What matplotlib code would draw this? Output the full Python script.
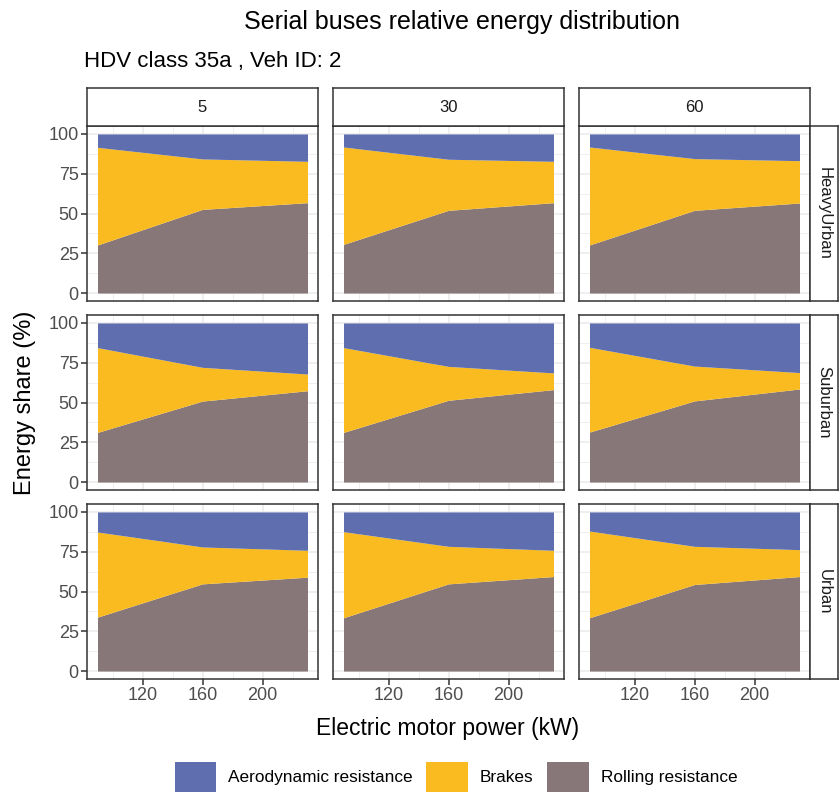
import matplotlib
matplotlib.use("Agg")
import matplotlib.pyplot as plt
from matplotlib.patches import Patch
import numpy as np

plt.rcParams['font.family'] = ['Liberation Sans', 'DejaVu Sans']

# ---------------- data ----------------
power_kw = [90, 160, 230]
columns = ["5", "30", "60"]
cycles = ["HeavyUrban", "Suburban", "Urban"]
series = ["Aerodynamic resistance", "Brakes", "Rolling resistance"]

rolling = {
    ("HeavyUrban", "5"):  [30.2, 52.6, 56.8],
    ("HeavyUrban", "30"): [30.6, 52.0, 56.8],
    ("HeavyUrban", "60"): [30.2, 52.0, 56.6],
    ("Suburban", "5"):    [31.2, 50.9, 57.4],
    ("Suburban", "30"):   [31.2, 51.4, 58.1],
    ("Suburban", "60"):   [31.4, 51.0, 58.5],
    ("Urban", "5"):       [33.9, 54.8, 59.0],
    ("Urban", "30"):      [33.5, 54.8, 59.4],
    ("Urban", "60"):      [33.5, 54.4, 59.4],
}
brakes = {
    ("HeavyUrban", "5"):  [61.4, 31.7, 26.0],
    ("HeavyUrban", "30"): [61.2, 32.1, 26.0],
    ("HeavyUrban", "60"): [61.6, 32.5, 26.6],
    ("Suburban", "5"):    [53.3, 21.2, 10.5],
    ("Suburban", "30"):   [53.3, 21.3, 10.5],
    ("Suburban", "60"):   [53.3, 21.9, 10.3],
    ("Urban", "5"):       [53.5, 23.2, 16.9],
    ("Urban", "30"):      [54.1, 23.6, 16.5],
    ("Urban", "60"):      [54.5, 24.0, 16.9],
}
aero = {
    ("HeavyUrban", "5"):  [8.4, 15.7, 17.2],
    ("HeavyUrban", "30"): [8.2, 15.9, 17.2],
    ("HeavyUrban", "60"): [8.2, 15.5, 16.8],
    ("Suburban", "5"):    [15.5, 27.9, 32.1],
    ("Suburban", "30"):   [15.5, 27.3, 31.4],
    ("Suburban", "60"):   [15.3, 27.1, 31.2],
    ("Urban", "5"):       [12.6, 22.0, 24.1],
    ("Urban", "30"):      [12.4, 21.6, 24.1],
    ("Urban", "60"):      [12.0, 21.6, 23.7],
}

y_ticks = [0, 25, 50, 75, 100]
x_ticks = [120, 160, 200]

colors = {"Aerodynamic resistance": "#5E6EAE",
          "Brakes": "#F9BB1F",
          "Rolling resistance": "#877779"}

# ---------------- layout ----------------
W, H = 839, 795
fig = plt.figure(figsize=(W / 100, H / 100), dpi=100)

def rect(l, t, w, h):
    return [l / W, 1 - (t + h) / H, w / W, h / H]

col_left = [87, 333, 579]
col_w = 231
row_top = [126, 315, 504]
row_h = 175
strip_top = 88
strip_h = 38
rstrip_left = 810
rstrip_w = 28

edge = "#333333"
grid_c = "#EBEBEB"

xmin, xmax = min(power_kw), max(power_kw)
xr = xmax - xmin
xlim = (xmin - 0.05 * xr, xmax + 0.05 * xr)
ylim = (-5, 105)

for i, cyc in enumerate(cycles):
    for j, col in enumerate(columns):
        ax = fig.add_axes(rect(col_left[j], row_top[i], col_w, row_h))
        r = np.array(rolling[(cyc, col)])
        b = np.array(brakes[(cyc, col)])
        a = np.array(aero[(cyc, col)])
        ax.fill_between(power_kw, 0, r, color=colors["Rolling resistance"], lw=0, zorder=2)
        ax.fill_between(power_kw, r, r + b, color=colors["Brakes"], lw=0, zorder=2)
        ax.fill_between(power_kw, r + b, r + b + a, color=colors["Aerodynamic resistance"], lw=0, zorder=2)
        ax.set_xlim(*xlim)
        ax.set_ylim(*ylim)
        ax.set_xticks(x_ticks)
        ax.set_xticks([100, 140, 180, 220], minor=True)
        ax.set_yticks(y_ticks)
        ax.set_yticks([12.5, 37.5, 62.5, 87.5], minor=True)
        ax.grid(True, which="major", color=grid_c, lw=1.1, zorder=0)
        ax.grid(True, which="minor", color=grid_c, lw=0.55, zorder=0)
        ax.set_axisbelow(True)
        for s in ax.spines.values():
            s.set_color(edge)
            s.set_linewidth(1.1)
        ax.tick_params(which="minor", length=0)
        ax.tick_params(which="major", length=4, width=1.1, color=edge,
                       labelsize=13, labelcolor="#4D4D4D", pad=2)
        if j == 0:
            ax.set_yticklabels([str(t) for t in y_ticks])
        else:
            ax.tick_params(axis="y", which="major", length=0, labelleft=False)
        if i == len(cycles) - 1:
            ax.set_xticklabels([str(t) for t in x_ticks])
        else:
            ax.tick_params(axis="x", which="major", length=0, labelbottom=False)

        # column strips
        if i == 0:
            sax = fig.add_axes(rect(col_left[j], strip_top, col_w, strip_h))
            sax.set_xticks([]); sax.set_yticks([])
            sax.set_facecolor("white")
            for s in sax.spines.values():
                s.set_color(edge); s.set_linewidth(1.1)
            sax.text(0.5, 0.5, col, ha="center", va="center", fontsize=12,
                     color="#1A1A1A", transform=sax.transAxes)
        # row strips
        if j == len(columns) - 1:
            rax = fig.add_axes(rect(rstrip_left, row_top[i], rstrip_w, row_h))
            rax.set_xticks([]); rax.set_yticks([])
            rax.set_facecolor("white")
            for s in rax.spines.values():
                s.set_color(edge); s.set_linewidth(1.1)
            rax.text(0.5, 0.5, cyc, ha="center", va="center", fontsize=12,
                     rotation=-90, color="#1A1A1A", transform=rax.transAxes)

# titles
fig.text(462 / W, 1 - 22 / H, "Serial buses relative energy distribution",
         ha="center", va="center", fontsize=18, color="black")
fig.text(84 / W, 1 - 62 / H, "HDV class 35a , Veh ID: 2",
         ha="left", va="center", fontsize=16, color="black")
fig.text(448 / W, 1 - 728 / H, "Electric motor power (kW)",
         ha="center", va="center", fontsize=16.5, color="black")
fig.text(25 / W, 1 - 403 / H, "Energy share (%)",
         ha="center", va="center", fontsize=17, rotation=90, color="black")

handles = [Patch(facecolor=colors[s], edgecolor="none", label=s) for s in series]
fig.legend(handles=handles, loc="center", bbox_to_anchor=(456 / W, 1 - 777 / H),
           ncol=3, frameon=False, fontsize=12.4, handlelength=2.4, handleheight=2.3,
           handletextpad=0.7, columnspacing=0.8, borderaxespad=0)

fig.savefig("out.png", dpi=100)
